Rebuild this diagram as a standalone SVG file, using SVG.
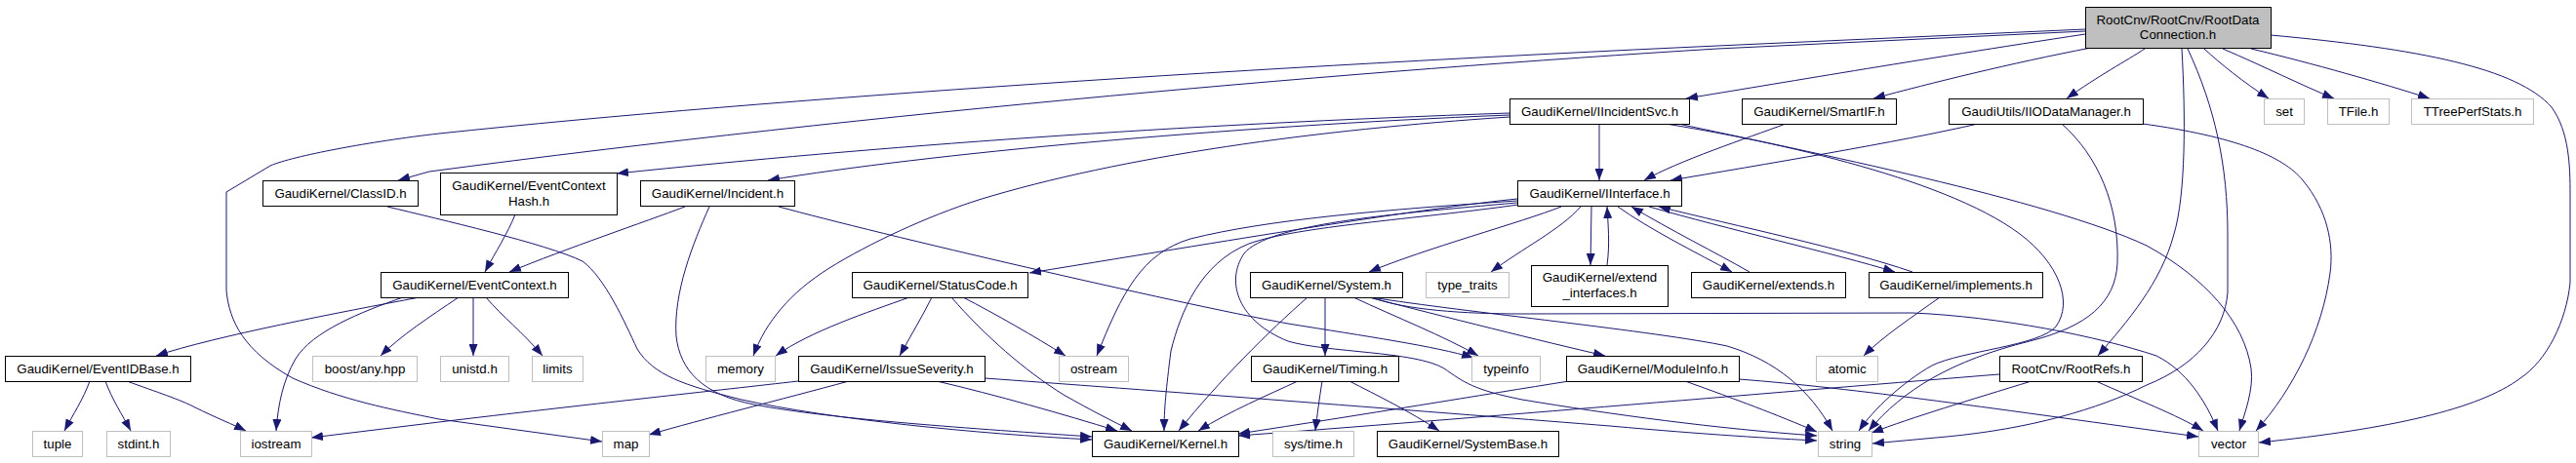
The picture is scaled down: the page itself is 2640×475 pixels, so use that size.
<svg xmlns="http://www.w3.org/2000/svg" width="2640" height="475" viewBox="0 0 2640 475">
<style>
text{font-family:"Liberation Sans",Arial,Helvetica,sans-serif;font-size:13.3px;text-anchor:middle;fill:#000}
.n rect{fill:#fff;stroke:#000;stroke-width:1}
.g rect{fill:#fff;stroke:#bfbfbf;stroke-width:1}
.r rect{fill:#bfbfbf;stroke:#000;stroke-width:1}
#edges path{fill:none;stroke:#191970;stroke-width:1;marker-end:url(#a)}
</style>
<defs>
<marker id="a" markerWidth="12" markerHeight="9" refX="12" refY="4.5" orient="auto" markerUnits="userSpaceOnUse">
<path d="M0,0 L12,4.5 L0,9 z" fill="#191970"/>
</marker>
</defs>
<rect width="2640" height="475" fill="#fff"/>
<g id="edges">
<path d="M2137,35 C1960,62 1820,86 1728,101"/>
<path d="M2143,49 C2060,65 1980,85 1920,101"/>
<path d="M2198,50 C2180,62 2150,78 2118,101"/>
<path d="M2259,50 C2275,65 2300,85 2325,101"/>
<path d="M2278,50 C2320,68 2360,88 2392,101"/>
<path d="M2307,50 C2370,65 2440,85 2490,101"/>
<path d="M2137,32 L1760,50 C1400,72 900,115 440,176 L408,185"/>
<path d="M2137,30 L1760,47 C1300,68 800,100 450,137 C380,145 300,160 277,170 L232,197 L232,298 C235,330 250,360 300,388 C350,410 400,420 450,430 L617,453"/>
<path d="M2236,50 C2240,120 2240,200 2228,240 C2215,290 2180,330 2150,365"/>
<path d="M2242,50 C2270,110 2283,170 2283,240 L2283,300 C2280,340 2250,375 2200,395 C2150,420 2080,440 1995,448 L1919,455"/>
<path d="M2327,36 C2480,50 2580,70 2615,110 C2633,135 2634,170 2634,200 L2634,290 C2630,330 2610,370 2583,388 C2540,420 2450,440 2315,454"/>
<path d="M1639,127 L1639,185"/>
<path d="M1547,116 C1200,128 900,150 632,178"/>
<path d="M1547,118 C1250,130 950,158 787,185"/>
<path d="M1547,120 C1350,133 1150,160 1003,205 C950,222 890,250 850,275 C810,300 785,330 772,365"/>
<path d="M1707,127 C1800,142 1990,180 2070,240 C2110,270 2125,310 2107,335 C2090,355 2010,360 1980,375 C1950,392 1920,420 1905,442"/>
<path d="M1720,127 C1850,155 2100,205 2200,252 C2260,285 2300,330 2307,378 C2310,400 2300,425 2295,442"/>
<path d="M1830,127 C1790,142 1720,165 1685,185"/>
<path d="M2027,127 C1950,145 1800,170 1712,185"/>
<path d="M2113,127 C2150,160 2172,210 2170,270 C2168,310 2140,335 2080,350 C2000,370 1950,400 1915,442"/>
<path d="M2196,127 C2290,140 2340,160 2360,185 C2385,215 2392,250 2388,280 C2380,340 2350,400 2312,442"/>
<path d="M397,212 C450,225 560,250 597,268 C620,285 640,330 653,358 C670,385 700,395 760,410 C850,430 1000,445 1119,451"/>
<path d="M702,212 C660,228 580,255 522,279"/>
<path d="M727,212 C710,250 690,300 693,345 C697,380 720,405 773,415 C850,430 1000,440 1119,448"/>
<path d="M798,212 C900,240 1200,310 1320,332 C1400,345 1470,355 1510,367"/>
<path d="M1555,204 C1450,215 1300,240 1055,280"/>
<path d="M1555,206 C1420,215 1300,225 1220,245 C1170,260 1150,300 1124,365"/>
<path d="M1556,210 C1450,225 1330,232 1280,250 C1230,270 1210,320 1200,360 C1195,400 1193,420 1193,442"/>
<path d="M1555,208 C1420,220 1300,230 1275,260 C1255,290 1270,330 1320,350 C1360,362 1450,360 1480,378 C1500,392 1510,400 1560,410 C1650,425 1760,440 1862,447"/>
<path d="M1600,212 C1560,228 1460,255 1403,279"/>
<path d="M1620,212 C1600,235 1560,255 1528,279"/>
<path d="M1631,212 L1630,272"/>
<path d="M1647,272 C1650,250 1648,230 1647,212"/>
<path d="M1658,212 C1690,235 1740,260 1775,279"/>
<path d="M1793,279 C1760,260 1710,235 1672,212"/>
<path d="M1690,212 C1770,235 1880,260 1942,279"/>
<path d="M1960,279 C1890,255 1780,232 1700,212"/>
<path d="M1988,305 C1960,325 1930,345 1910,365"/>
<path d="M528,220 C520,240 508,258 497,279"/>
<path d="M430,305 C350,320 220,345 160,365"/>
<path d="M413,305 C370,320 320,340 303,368 C290,390 285,415 283,442"/>
<path d="M470,305 C440,325 410,345 390,365"/>
<path d="M485,305 L485,365"/>
<path d="M498,305 C515,325 535,340 556,365"/>
<path d="M92,391 C85,410 75,425 66,442"/>
<path d="M108,391 C115,410 125,425 134,442"/>
<path d="M130,391 C160,402 185,410 200,418 C220,428 240,436 252,442"/>
<path d="M932,305 C890,320 830,340 795,365"/>
<path d="M955,305 C945,325 933,345 922,365"/>
<path d="M987,305 C1020,322 1060,345 1092,365"/>
<path d="M975,305 C1010,345 1050,380 1090,405 C1120,422 1140,432 1160,442"/>
<path d="M818,391 C740,400 600,415 450,433 L319,449"/>
<path d="M870,391 C800,410 720,430 665,446"/>
<path d="M960,391 C1020,405 1090,425 1145,442"/>
<path d="M1009,388 C1150,398 1500,425 1650,437 C1750,446 1820,450 1862,452"/>
<path d="M1358,305 L1358,365"/>
<path d="M1387,305 C1430,325 1480,345 1515,365"/>
<path d="M1403,305 C1480,325 1580,350 1645,365"/>
<path d="M1340,305 C1300,340 1250,390 1208,442"/>
<path d="M1405,305 C1500,320 1700,340 1770,355 C1820,370 1855,400 1878,442"/>
<path d="M1405,305 C1440,318 1500,322 1560,322 L1960,321 C2050,325 2150,345 2210,365 C2240,380 2260,410 2273,442"/>
<path d="M1355,391 C1352,410 1350,425 1348,442"/>
<path d="M1383,391 C1410,405 1445,422 1475,442"/>
<path d="M1330,391 C1300,405 1260,422 1228,442"/>
<path d="M1608,391 C1520,405 1400,425 1269,445"/>
<path d="M1727,391 C1780,410 1820,425 1862,443"/>
<path d="M1782,389 C1900,398 2050,420 2253,448"/>
<path d="M2049,384 C1850,400 1500,430 1269,447"/>
<path d="M2082,391 C2020,410 1960,428 1918,444"/>
<path d="M2148,391 C2190,410 2230,425 2258,442"/>
</g>
<g id="root" class="r"><rect x="2137.5" y="7.5" width="190" height="42"/><text x="2232" y="25">RootCnv/RootCnv/RootData</text><text x="2232" y="40">Connection.h</text></g>
<g id="iincidentsvc" class="n"><rect x="1547.5" y="101.5" width="184" height="26"/><text x="1639.5" y="119">GaudiKernel/IIncidentSvc.h</text></g>
<g id="smartif" class="n"><rect x="1785.5" y="101.5" width="158" height="26"/><text x="1864.5" y="119">GaudiKernel/SmartIF.h</text></g>
<g id="iiodatamanager" class="n"><rect x="1997.5" y="101.5" width="199" height="26"/><text x="2097" y="119">GaudiUtils/IIODataManager.h</text></g>
<g id="set" class="g"><rect x="2320.5" y="101.5" width="41" height="26"/><text x="2341" y="119">set</text></g>
<g id="tfile" class="g"><rect x="2385.5" y="101.5" width="63" height="26"/><text x="2417" y="119">TFile.h</text></g>
<g id="ttreeperfstats" class="g"><rect x="2471.5" y="101.5" width="125" height="26"/><text x="2534" y="119">TTreePerfStats.h</text></g>
<g id="classid" class="n"><rect x="269.5" y="185.5" width="159" height="26"/><text x="349" y="203">GaudiKernel/ClassID.h</text></g>
<g id="eventcontexthash" class="n"><rect x="451.5" y="177.5" width="181" height="43"/><text x="542" y="195">GaudiKernel/EventContext</text><text x="542" y="211">Hash.h</text></g>
<g id="incident" class="n"><rect x="656.5" y="185.5" width="158" height="26"/><text x="735.5" y="203">GaudiKernel/Incident.h</text></g>
<g id="iinterface" class="n"><rect x="1555.5" y="185.5" width="168" height="26"/><text x="1639.5" y="203">GaudiKernel/IInterface.h</text></g>
<g id="eventcontext" class="n"><rect x="390.5" y="279.5" width="192" height="26"/><text x="486.5" y="297">GaudiKernel/EventContext.h</text></g>
<g id="statuscode" class="n"><rect x="873.5" y="279.5" width="180" height="26"/><text x="963.5" y="297">GaudiKernel/StatusCode.h</text></g>
<g id="system" class="n"><rect x="1281.5" y="279.5" width="156" height="26"/><text x="1359.5" y="297">GaudiKernel/System.h</text></g>
<g id="type_traits" class="g"><rect x="1461.5" y="279.5" width="85" height="26"/><text x="1504" y="297">type_traits</text></g>
<g id="extend_interfaces" class="n"><rect x="1569.5" y="272.5" width="140" height="42"/><text x="1639.5" y="289">GaudiKernel/extend</text><text x="1639.5" y="305">_interfaces.h</text></g>
<g id="extends" class="n"><rect x="1733.5" y="279.5" width="158" height="26"/><text x="1812.5" y="297">GaudiKernel/extends.h</text></g>
<g id="implements" class="n"><rect x="1915.5" y="279.5" width="178" height="26"/><text x="2004.5" y="297">GaudiKernel/implements.h</text></g>
<g id="eventidbase" class="n"><rect x="5.5" y="365.5" width="190" height="26"/><text x="100.5" y="383">GaudiKernel/EventIDBase.h</text></g>
<g id="boost_any" class="g"><rect x="320.5" y="365.5" width="107" height="26"/><text x="374" y="383">boost/any.hpp</text></g>
<g id="unistd" class="g"><rect x="451.5" y="365.5" width="70" height="26"/><text x="486.5" y="383">unistd.h</text></g>
<g id="limits" class="g"><rect x="545.5" y="365.5" width="52" height="26"/><text x="571.5" y="383">limits</text></g>
<g id="memory" class="g"><rect x="723.5" y="365.5" width="71" height="26"/><text x="759" y="383">memory</text></g>
<g id="issueseverity" class="n"><rect x="818.5" y="365.5" width="191" height="26"/><text x="914" y="383">GaudiKernel/IssueSeverity.h</text></g>
<g id="ostream" class="g"><rect x="1085.5" y="365.5" width="71" height="26"/><text x="1121" y="383">ostream</text></g>
<g id="timing" class="n"><rect x="1282.5" y="365.5" width="151" height="26"/><text x="1358" y="383">GaudiKernel/Timing.h</text></g>
<g id="typeinfo" class="g"><rect x="1508.5" y="365.5" width="70" height="26"/><text x="1543.5" y="383">typeinfo</text></g>
<g id="moduleinfo" class="n"><rect x="1605.5" y="365.5" width="177" height="26"/><text x="1694" y="383">GaudiKernel/ModuleInfo.h</text></g>
<g id="atomic" class="g"><rect x="1861.5" y="365.5" width="63" height="26"/><text x="1893" y="383">atomic</text></g>
<g id="rootrefs" class="n"><rect x="2049.5" y="365.5" width="146" height="26"/><text x="2122.5" y="383">RootCnv/RootRefs.h</text></g>
<g id="tuple" class="g"><rect x="33.5" y="442.5" width="51" height="26"/><text x="59" y="460">tuple</text></g>
<g id="stdint" class="g"><rect x="109.5" y="442.5" width="65" height="26"/><text x="142" y="460">stdint.h</text></g>
<g id="iostream" class="g"><rect x="246.5" y="442.5" width="73" height="26"/><text x="283" y="460">iostream</text></g>
<g id="map" class="g"><rect x="617.5" y="442.5" width="48" height="26"/><text x="641.5" y="460">map</text></g>
<g id="kernel" class="n"><rect x="1119.5" y="442.5" width="150" height="26"/><text x="1194.5" y="460">GaudiKernel/Kernel.h</text></g>
<g id="systime" class="g"><rect x="1304.5" y="442.5" width="83" height="26"/><text x="1346" y="460">sys/time.h</text></g>
<g id="systembase" class="n"><rect x="1411.5" y="442.5" width="186" height="26"/><text x="1504.5" y="460">GaudiKernel/SystemBase.h</text></g>
<g id="string" class="g"><rect x="1863.5" y="442.5" width="55" height="26"/><text x="1891" y="460">string</text></g>
<g id="vector" class="g"><rect x="2253.5" y="442.5" width="61" height="26"/><text x="2284" y="460">vector</text></g>
</svg>
